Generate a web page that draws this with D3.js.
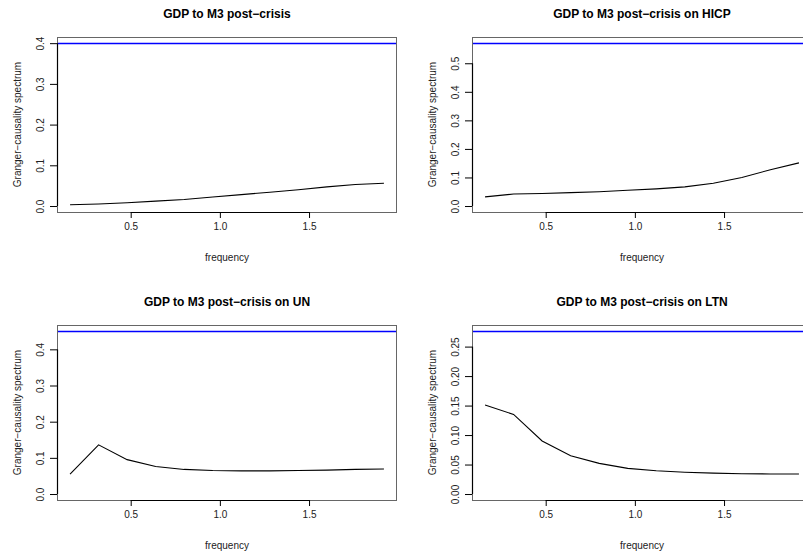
<!DOCTYPE html>
<html><head><meta charset="utf-8">
<script src="https://cdn.jsdelivr.net/npm/d3@7"></script>
<style>body{margin:0;background:#fff}svg{display:block}text{font-family:"Liberation Sans",Arial,Helvetica,sans-serif}</style>
</head><body>
<script>
// ---- data ----
const frequency = [0.16,0.32,0.48,0.64,0.80,0.96,1.12,1.28,1.44,1.60,1.76,1.92];
const gcPostCrisis = [0.003,0.005,0.008,0.012,0.016,0.022,0.028,0.034,0.040,0.047,0.053,0.056];
const gcOnHICP = [0.032,0.042,0.044,0.047,0.050,0.055,0.060,0.067,0.080,0.100,0.127,0.151];
const gcOnUN = [0.055,0.136,0.095,0.076,0.068,0.065,0.064,0.064,0.065,0.066,0.068,0.069];
const gcOnLTN = [0.151,0.135,0.090,0.065,0.052,0.0435,0.0395,0.037,0.0355,0.0345,0.034,0.034];
const thresholds = [0.398,0.5675,0.448,0.2748];
const titles = ["GDP to M3 post\u2212crisis","GDP to M3 post\u2212crisis on HICP","GDP to M3 post\u2212crisis on UN","GDP to M3 post\u2212crisis on LTN"];
const xTicks = [0.5,1.0,1.5];
const yTicksA = [0,0.1,0.2,0.3,0.4];
const yTicksB = [0,0.1,0.2,0.3,0.4,0.5];
const yTicksC = [0,0.1,0.2,0.3,0.4];
const yTicksD = [0,0.05,0.10,0.15,0.20,0.25];
const yFormats = [".1f",".1f",".1f",".2f"];
const xLabel = "frequency";
const yLabel = "Granger\u2212causality spectrum";

const series = [gcPostCrisis,gcOnHICP,gcOnUN,gcOnLTN];
const yTicks = [yTicksA,yTicksB,yTicksC,yTicksD];

const W=803,H=557;
const svg=d3.select("body").append("svg").attr("width",W).attr("height",H);
const pw=339, ph=175;
const origins=[[57,37],[472,37],[57,325],[472,325]];

function ext(lo,hi){const r=hi-lo;return [lo-0.04*r,hi+0.04*r];}
const xDom = ext(d3.min(frequency),d3.max(frequency));

series.forEach((vals,i)=>{
  const [ox,oy]=origins[i];
  const g=svg.append("g").attr("transform",`translate(${ox},${oy})`);
  const x=d3.scaleLinear().domain(xDom).range([0.5,pw+0.5]);
  const y=d3.scaleLinear().domain(ext(0,thresholds[i])).range([ph+0.5,0.5]);
  // blue threshold line
  const by=Math.floor(y(thresholds[i]))+0.5;
  g.append("line").attr("x1",0.5).attr("x2",pw+0.5).attr("y1",by).attr("y2",by)
    .attr("stroke","#0000ff").attr("stroke-width",1.6);
  // series line
  g.append("path").datum(vals.map((v,k)=>[frequency[k],v]))
    .attr("d",d3.line().x(d=>x(d[0])).y(d=>y(d[1])))
    .attr("fill","none").attr("stroke","#000").attr("stroke-width",1.1);
  // box
  g.append("rect").attr("x",0.5).attr("y",0.5).attr("width",pw).attr("height",ph)
    .attr("fill","none").attr("stroke","#666").attr("stroke-width",1);
  // x axis
  const xa=g.append("g").attr("transform",`translate(0,${ph})`)
    .call(d3.axisBottom(x).tickValues(xTicks).tickFormat(d3.format(".1f")).tickSize(6).tickPadding(5));
  xa.select(".domain").attr("d",`M${x(xTicks[0])},0.5H${x(xTicks[xTicks.length-1])}`).attr("stroke","#000").attr("stroke-width",1.2);
  xa.selectAll("text").attr("font-size",10).attr("fill","#222").attr("font-family","Liberation Sans,Arial,sans-serif");
  xa.selectAll("line").attr("stroke","#000");
  // y axis
  const yt=yTicks[i];
  const ya=g.append("g").call(d3.axisLeft(y).tickValues(yt).tickFormat(d3.format(yFormats[i])).tickSize(7));
  ya.select(".domain").attr("d",`M0.5,${y(yt[0])}V${y(yt[yt.length-1])}`).attr("stroke","#000").attr("stroke-width",1.2);
  ya.selectAll("line").attr("stroke","#000");
  ya.selectAll("text").attr("font-size",10).attr("fill","#222").attr("font-family","Liberation Sans,Arial,sans-serif")
    .attr("x",0).attr("dy",null).attr("text-anchor","middle")
    .attr("transform",d=>`translate(-17,0) rotate(-90)`).attr("dominant-baseline","central");
  // labels
  g.append("text").attr("x",pw/2+0.5).attr("y",ph+45).attr("text-anchor","middle").attr("dominant-baseline","central")
    .attr("font-size",10).attr("fill","#222").text(xLabel);
  g.append("text").attr("transform",`translate(-40,${ph/2}) rotate(-90)`).attr("text-anchor","middle").attr("dominant-baseline","central")
    .attr("font-size",10).attr("fill","#222").text(yLabel);
  g.append("text").attr("x",pw/2+0.5).attr("y",-23.5).attr("text-anchor","middle").attr("dominant-baseline","central")
    .attr("font-size",12).attr("font-weight","bold").attr("fill","#000").text(titles[i]);
});
</script>
</body></html>
